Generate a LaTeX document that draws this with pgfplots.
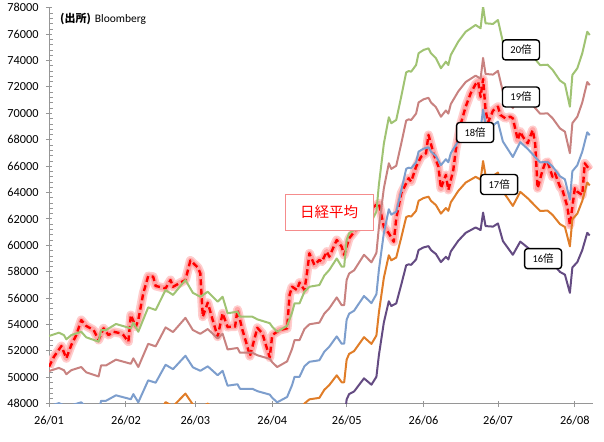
\documentclass[border=0pt]{standalone}
\usepackage{fontspec}
\setmainfont{Carlito}
\newfontfamily\cjk{Noto Sans CJK JP}
\usepackage{pgfplots}
\pgfplotsset{compat=1.18}
\usepackage{pgfplotstable}

\definecolor{axgray}{RGB}{150,150,150}
\definecolor{c20}{RGB}{160,195,115}
\definecolor{c19}{RGB}{200,130,128}
\definecolor{c18}{RGB}{125,158,205}
\definecolor{c17}{RGB}{224,125,40}
\definecolor{c16}{RGB}{100,75,130}
\definecolor{glowA}{RGB}{255,205,205}
\definecolor{glowB}{RGB}{255,165,165}
\definecolor{boxred}{RGB}{245,140,140}

\pgfplotstableread{
day nk
0 50800
2 51560
5 52370
7 51440
9 52450
11 53200
13 54340
15 53890
18 53580
20 52830
22 53710
24 53200
26 53450
29 53330
30 53200
32 52700
33 54720
35 53830
36 54340
38 56360
40 57670
42 57620
43 56920
47 56740
49 57370
50 56860
53 57170
55 57370
57 58850
60 58320
61 57880
62 54590
64 55650
66 54340
68 53080
70 54850
72 53800
73 53830
75 53830
76 55120
78 53580
80 52320
81 51600
84 53750
86 53330
89 51500
90 53200
93 53580
96 53710
97 56240
98 56860
100 56610
101 57170
103 56610
104 57880
105 59390
107 58510
109 58890
110 58760
112 59520
113 59140
116 60400
118 59890
119 59270
121 60530
123 61000
126 61760
129 62520
131 62940
133 63180
135 61410
137 60910
139 60270
140 62040
142 63940
144 64700
145 65080
146 64820
148 65960
150 66710
152 66970
153 68360
155 66970
157 65960
158 64320
160 65330
161 64190
163 65710
164 67220
166 69200
168 70500
170 71510
172 72220
173 72400
174 71240
175 72600
176 70250
177 69300
179 70200
181 70500
182 69870
184 69620
186 69740
187 69620
189 67980
190 68610
191 68230
193 67730
195 68740
196 67730
197 64320
199 65710
200 66210
201 66330
203 65200
204 65450
206 64440
207 64190
209 62920
210 61540
211 62920
212 64320
213 64060
215 63810
216 66210
218 65710
}\nikkei

\pgfplotstableread{
day p20 p19 p18 p17 p16
0 53130 50474 47817 45161 42504
4 53380 50711 48042 45373 42704
6 53200 50540 47880 45220 42560
7 52880 50236 47592 44948 42304
9 53200 50540 47880 45220 42560
13 53450 50778 48105 45433 42760
15 53030 50379 47727 45076 42424
20 52700 50065 47430 44795 42160
21 53580 50901 48222 45543 42864
23 53580 50901 48222 45543 42864
27 54040 51338 48636 45934 43232
33 53710 51025 48339 45654 42968
34 54140 51433 48726 46019 43312
36 53450 50778 48105 45433 42760
40 55300 52535 49770 47005 44240
43 55100 52345 49590 46835 44080
47 56610 53780 50949 48119 45288
50 56240 53428 50616 47804 44992
55 57370 54502 51633 48765 45896
58 56400 53580 50760 47940 45120
61 56100 53295 50490 47685 44880
64 56480 53656 50832 48008 45184
68 55730 52944 50157 47371 44584
70 56100 53295 50490 47685 44880
72 54850 52108 49365 46623 43880
76 54970 52222 49473 46725 43976
77 54590 51861 49131 46402 43672
82 54590 51861 49131 46402 43672
84 54390 51671 48951 46232 43512
89 54100 51395 48690 45985 43280
90 53830 51139 48447 45756 43064
92 53450 50778 48105 45433 42760
96 53900 51205 48510 45815 43120
98 54900 52155 49410 46665 43920
99 55600 52820 50040 47260 44480
101 55600 52820 50040 47260 44480
103 56490 53666 50841 48017 45192
105 56860 54017 51174 48331 45488
109 56990 54141 51291 48442 45592
111 57710 54825 51939 49054 46168
113 58130 55224 52317 49411 46504
116 59000 56050 53100 50150 47200
118 58380 55461 52542 49623 46704
119 58380 55461 52542 49623 46704
120 60400 57380 54360 51340 48320
121 60910 57865 54819 51774 48728
123 61160 58102 55044 51986 48928
127 62400 59280 56160 53040 49920
130 61800 58710 55620 52530 49440
132 62550 59423 56295 53168 50040
133 64600 61370 58140 54910 51680
135 67700 64315 60930 57545 54160
137 69700 66215 62730 59245 55760
138 69250 65788 62325 58863 55400
140 69500 66025 62550 59075 55600
142 71260 67697 64134 60571 57008
144 73100 69445 65790 62135 58480
145 73200 69540 65880 62220 58560
146 73150 69493 65835 62178 58520
148 73660 69977 66294 62611 58928
149 74550 70823 67095 63368 59640
151 74800 71060 67320 63580 59840
153 74920 71174 67428 63682 59936
154 74550 70823 67095 63368 59640
156 74170 70462 66753 63045 59336
158 73410 69740 66069 62399 58728
160 73910 70215 66519 62824 59128
161 73660 69977 66294 62611 58928
162 74420 70699 66978 63257 59536
165 75430 71659 67887 64116 60344
168 76180 72371 68562 64753 60944
172 76690 72856 69021 65187 61352
174 76440 72618 68796 64974 61152
175 78100 74195 70290 66385 62480
176 76820 72979 69138 65297 61456
179 76770 72932 69093 65255 61416
181 77070 73217 69363 65510 61656
183 75400 71630 67860 64090 60320
187 74100 70395 66690 62985 59280
190 75350 71583 67815 64048 60280
193 74780 71041 67302 63563 59824
198 73650 69968 66285 62603 58920
201 73680 69996 66312 62628 58944
203 73300 69635 65970 62305 58640
206 72480 68856 65232 61608 57984
208 72220 68609 64998 61387 57776
210 70500 66975 63450 59925 56400
211 72900 69255 65610 61965 58320
213 73410 69740 66069 62399 58728
215 74550 70823 67095 63368 59640
217 76180 72371 68562 64753 60944
218 75930 72134 68337 64541 60744
}\per

\begin{document}
\begin{tikzpicture}
\useasboundingbox (0,0) rectangle (604bp,442bp);
\begin{axis}[
  at={(49bp,38.3bp)}, anchor=south west,
  scale only axis, width=543.7bp, height=396bp,
  xmin=0, xmax=219.2, ymin=48000, ymax=78000,
  axis lines*=left,
  axis line style={-, draw=axgray, line width=0.9bp},
  xtick={0,31,59,90,120,151,181,212},
  xticklabels={26/01,26/02,26/03,26/04,26/05,26/06,26/07,26/08},
  ytick={48000,50000,...,78000},
  scaled y ticks=false,
  minor y tick num=4,
  minor x tick num=0,
  tick align=center,
  major tick length=6bp, minor tick length=4bp,
  tick style={draw=axgray, line width=0.8bp},
  minor tick style={xshift=2bp, draw=axgray, line width=0.6bp},
  yticklabel={\pgfmathprintnumber[fixed,precision=0,1000 sep={},assume math mode=true]{\tick}},
  ticklabel style={font=\fontsize{12.3bp}{14bp}\selectfont, text=black},
  yticklabel style={xshift=-4bp},
  xticklabel style={yshift=-6bp},
  clip=true,
  every axis plot/.append style={mark=none, line join=round},
]
% Nikkei glow and dashed line
\addplot[draw=glowA, line width=9bp] table[x=day,y=nk]{\nikkei};
\addplot[draw=glowB, line width=5.5bp] table[x=day,y=nk]{\nikkei};
\addplot[draw=red, line width=2.4bp, dash pattern=on 6bp off 3.5bp] table[x=day,y=nk]{\nikkei};
% PER lines
\addplot[draw=c16, line width=2bp] table[x=day,y=p16]{\per};
\addplot[draw=c17, line width=2bp] table[x=day,y=p17]{\per};
\addplot[draw=c18, line width=2bp] table[x=day,y=p18]{\per};
\addplot[draw=c19, line width=2bp] table[x=day,y=p19]{\per};
\addplot[draw=c20, line width=2bp] table[x=day,y=p20]{\per};

\tikzset{perbox/.style={draw=black, line width=1.4bp, rounded corners=3bp, fill=white,
  minimum width=37bp, minimum height=20bp, inner sep=0pt,
  font=\fontsize{10.5bp}{12bp}\selectfont}}
\node[perbox] at (axis cs:190.3,74800) {20{\cjk 倍}};
\node[perbox] at (axis cs:190.3,71235) {19{\cjk 倍}};
\node[perbox] at (axis cs:171.8,68546) {18{\cjk 倍}};
\node[perbox] at (axis cs:181.5,64606) {17{\cjk 倍}};
\node[perbox] at (axis cs:199.2,58985) {16{\cjk 倍}};
\node[draw=boxred, line width=0.9bp, fill=white, minimum width=88bp, minimum height=36bp,
  inner sep=0pt, text=red, font=\cjk\fontsize{14.5bp}{16bp}\selectfont]
  at (axis cs:112.9,62523) {日経平均};
\node[anchor=west, inner sep=0pt, font=\fontsize{11.5bp}{13bp}\selectfont]
  at (axis cs:4.4,77150) {{\cjk\bfseries\fontsize{11bp}{13bp}\selectfont (出所)}\hspace{4bp}Bloomberg};
\end{axis}
\end{tikzpicture}
\end{document}
